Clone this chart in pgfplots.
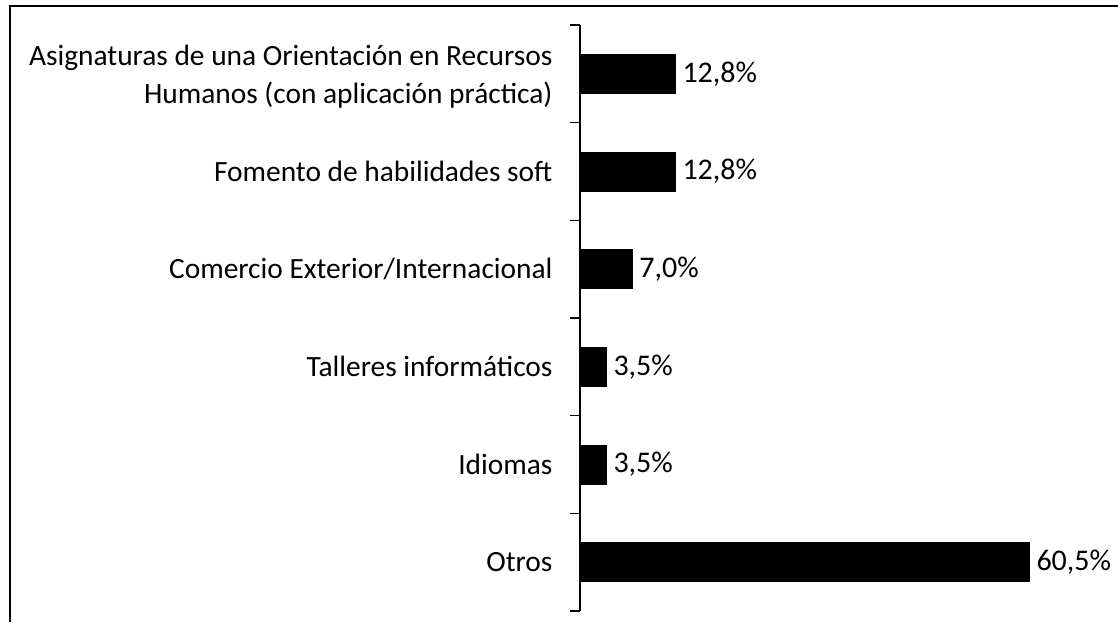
\documentclass[border=0pt]{standalone}
\usepackage{fontspec}
\setmainfont{Carlito}
\usepackage{pgfplots}
\pgfplotsset{compat=1.18}
\begin{document}
\begin{tikzpicture}
\path[use as bounding box] (0,0) rectangle (1118pt,622pt);
\draw[line width=2pt] (10pt,0) -- (10pt,616pt) -- (1118pt,616pt);
\begin{axis}[
  at={(580pt,11pt)}, anchor=south west,
  scale only axis, width=449pt, height=586pt,
  xbar, bar width=39pt,
  xmin=0, xmax=60.5,
  ymin=-0.5, ymax=5.5,
  axis x line=none,
  axis y line*=left,
  axis line style={-, line width=1.4pt},
  ytick={-0.5,0.5,1.5,2.5,3.5,4.5,5.5},
  yticklabels={},
  tick align=outside,
  major tick length=10pt,
  tick style={line width=1.4pt, black},
  clip=false,
  every node near coord/.append style={anchor=west, xshift=4pt, font=\fontsize{30}{36}\selectfont, text=black},
  nodes near coords={\pgfmathprintnumber[fixed,fixed zerofill,precision=1,use comma,assume math mode=true]{\pgfplotspointmeta}\%},
  font=\fontsize{29.4}{38}\selectfont,
]
\addplot[fill=black, draw=black] coordinates {
  (60.5,0) (3.5,1) (3.5,2) (7.0,3) (12.8,4) (12.8,5)
};
\node[anchor=east, align=right, xshift=-24pt, yshift=-3pt] at (axis cs:0,5) {Asignaturas de una Orientación en Recursos\\Humanos (con aplicación práctica)};
\node[anchor=east, align=right, xshift=-24pt] at (axis cs:0,4) {Fomento de habilidades soft};
\node[anchor=east, align=right, xshift=-24pt] at (axis cs:0,3) {Comercio Exterior/Internacional};
\node[anchor=east, align=right, xshift=-24pt] at (axis cs:0,2) {Talleres informáticos};
\node[anchor=east, align=right, xshift=-24pt] at (axis cs:0,1) {Idiomas};
\node[anchor=east, align=right, xshift=-24pt] at (axis cs:0,0) {Otros};
\end{axis}
\end{tikzpicture}
\end{document}
